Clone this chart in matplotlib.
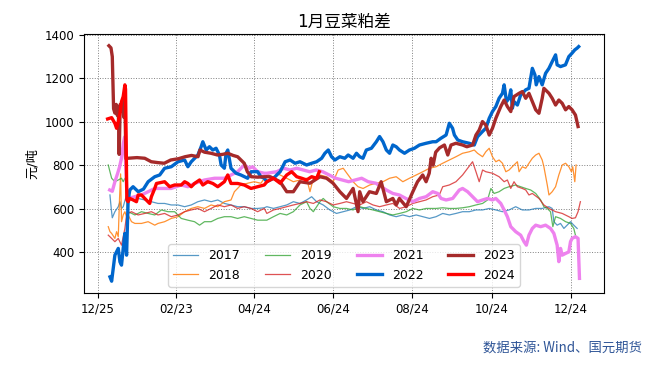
import matplotlib
matplotlib.use("Agg")
import matplotlib.pyplot as plt

plt.rcParams['font.family'] = ['DejaVu Sans', 'Noto Sans CJK SC']
plt.rcParams['axes.unicode_minus'] = False

# x = days counted from 12/25
tick_days = [0, 60, 120, 181, 242, 303, 364]
tick_labels = ["12/25", "02/23", "04/24", "06/24", "08/24", "10/24", "12/24"]

d2017 = [9.2, 10.2, 11, 13, 15.6, 16.9, 18.1, 19.4, 22, 25.8, 30.9, 36, 41.1, 46.2, 51.3, 56.4, 61.6, 66.7, 71.8, 76.9, 82, 87.1, 92.2, 97.3, 102.4, 107.5, 112.6, 117.8, 122.9, 128, 130, 135.1, 140.2, 145.3, 150.4, 155.5, 160.6, 164.5, 168.3, 173.4, 178.5, 183.6, 188.8, 193.9, 199, 204.1, 209.2, 214.3, 219.4, 224.5, 229.6, 234.7, 239.8, 245, 250.1, 255.2, 260.3, 265.4, 270.5, 275.6, 280.7, 285.9, 291, 296.1, 301.2, 306.3, 311.4, 316.5, 321.6, 326.7, 331.8, 337, 342, 347.2, 349.7, 351, 353.5, 356.1, 358.7, 361.2, 363.8, 366.3, 368.9]
v2017 = [663, 600, 558, 586, 609, 632, 601, 609, 663, 655, 647, 640, 632, 624, 624, 617, 617, 609, 617, 632, 640, 632, 640, 624, 617, 609, 609, 601, 601, 604, 609, 601, 609, 617, 632, 624, 640, 655, 632, 617, 594, 578, 586, 594, 609, 601, 609, 594, 586, 571, 563, 571, 563, 571, 563, 555, 563, 578, 571, 578, 586, 586, 594, 594, 601, 594, 586, 594, 609, 594, 594, 601, 601, 609, 601, 540, 524, 532, 509, 524, 540, 524, 509]

d2018 = [7.9, 9.2, 10.5, 13, 14.3, 15.6, 16.6, 17.4, 18.1, 19.4, 20.7, 22, 23.2, 25.8, 28.4, 33.5, 38.6, 43.7, 46.2, 51.3, 56.4, 61.6, 66.7, 71.8, 76.9, 82, 87.1, 92.2, 97.3, 102.4, 105, 110, 115.2, 120.3, 125.4, 130, 135.1, 140.2, 145.3, 150.4, 155.5, 160.6, 163.2, 165.8, 170.9, 176, 181.1, 184.9, 188.8, 192.6, 196.4, 200.2, 204.1, 209.2, 214.3, 219.4, 224.5, 229.6, 234.7, 239.8, 245, 250.1, 255.2, 260.3, 265.4, 270.5, 275.6, 280.7, 285.9, 289.7, 292.2, 296.1, 298.6, 301.2, 303.7, 306.3, 308.8, 311.4, 314, 316.5, 320.3, 322.9, 324.2, 326.7, 329.3, 331.8, 334.4, 337, 339.5, 342, 343.3, 345.9, 347.2, 349.7, 352.3, 354.8, 357.4, 360, 362.5, 364.5, 365.5, 367.1, 368.1]
v2018 = [517, 494, 486, 463, 494, 471, 650, 760, 540, 571, 586, 563, 571, 540, 532, 532, 540, 524, 532, 540, 555, 563, 586, 601, 609, 601, 617, 609, 632, 640, 678, 709, 717, 724, 717, 755, 770, 755, 740, 724, 732, 740, 678, 740, 755, 747, 724, 778, 786, 755, 724, 701, 693, 709, 717, 724, 740, 747, 724, 740, 755, 770, 786, 793, 809, 824, 839, 855, 862, 870, 855, 839, 862, 878, 839, 816, 824, 809, 770, 778, 801, 816, 770, 793, 786, 809, 832, 847, 855, 824, 793, 709, 663, 678, 701, 755, 801, 809, 793, 770, 793, 724, 801]

d2019 = [7.9, 9.2, 10.5, 13, 15.6, 18.1, 19.4, 20.7, 21.7, 22.5, 23.2, 28.4, 33.5, 38.6, 43.7, 48.8, 53.9, 59, 64.1, 69.2, 74.3, 78.2, 82, 87.1, 92.2, 97.3, 102.4, 107.5, 112.6, 117.8, 122.9, 128, 130, 135.1, 140.2, 145.3, 150.4, 155.5, 160.6, 163.2, 165.8, 170.9, 173.4, 176, 181.1, 186.2, 191.3, 196.4, 201.5, 206.6, 211.7, 216.8, 222, 227, 232.2, 237.3, 242.4, 247.5, 252.6, 257.7, 260.3, 265.4, 270.5, 275.6, 280.7, 285.9, 291, 296.1, 299.9, 302.5, 305, 308.8, 312.7, 316.5, 321.6, 325.4, 329.3, 333.1, 337, 340.8, 343.3, 345.9, 348.4, 350.2, 352.3, 356.1, 360, 363.8, 366.3, 367.6]
v2019 = [801, 770, 740, 724, 732, 740, 724, 740, 720, 600, 586, 571, 586, 578, 571, 594, 586, 586, 555, 547, 540, 524, 540, 540, 555, 563, 563, 555, 563, 555, 547, 547, 547, 563, 578, 571, 586, 617, 632, 601, 586, 632, 647, 632, 609, 601, 601, 594, 609, 601, 594, 586, 578, 571, 578, 586, 601, 594, 601, 601, 601, 604, 601, 601, 604, 609, 617, 624, 640, 693, 670, 678, 693, 701, 709, 701, 693, 686, 670, 640, 609, 601, 586, 517, 563, 555, 540, 532, 509, 478]

d2020 = [7.9, 10.5, 13, 15.6, 18.1, 20.7, 22, 23.2, 25.8, 30.9, 36, 41.1, 46.2, 51.3, 56.4, 61.6, 66.7, 71.8, 76.9, 82, 87.1, 92.2, 97.3, 102.4, 107.5, 112.6, 117.8, 122.9, 128, 130, 135.1, 140.2, 145.3, 150.4, 155.5, 160.6, 165.8, 170.9, 176, 181.1, 186.2, 191.3, 196.4, 201.5, 206.6, 211.7, 216.8, 222, 227, 232.2, 237.3, 242.4, 247.5, 252.6, 257.7, 262.8, 265.4, 270.5, 275.6, 280.7, 284.6, 288.4, 291, 293.5, 296.1, 298.6, 303.7, 308.8, 312.7, 315.2, 317.8, 320.3, 322.9, 326.7, 329.3, 331.8, 334.4, 339.5, 343.3, 347.2, 352.3, 357.4, 362.5, 365, 367.6, 369.6, 371.4]
v2020 = [478, 463, 448, 463, 432, 509, 571, 578, 586, 571, 578, 586, 571, 578, 563, 571, 586, 594, 601, 586, 601, 617, 609, 617, 601, 609, 601, 586, 601, 578, 594, 601, 609, 617, 624, 632, 624, 640, 632, 617, 624, 632, 624, 617, 632, 617, 609, 617, 624, 601, 609, 624, 632, 640, 655, 663, 701, 709, 724, 755, 786, 816, 770, 724, 778, 770, 763, 747, 724, 732, 693, 724, 701, 693, 686, 663, 670, 647, 617, 601, 586, 578, 563, 555, 558, 586, 632]

d2021 = [9, 11, 13, 15, 16.5, 18, 19.5, 20.5, 22, 23.2, 28.3, 33.5, 38.6, 43.7, 48.8, 56.4, 64.1, 69.2, 74.3, 82, 89.7, 97.3, 102.4, 107.5, 112.6, 116.5, 119, 122.9, 128, 130, 137.6, 143, 148, 153, 158, 163, 168, 173, 178, 183, 188, 193, 198, 203, 208, 214, 218, 222, 227, 232, 237, 242.4, 247.5, 252.6, 257.7, 261.6, 264.1, 268, 273.1, 278.2, 280.7, 284.6, 288.4, 292.2, 296.1, 299.9, 303.7, 306.3, 310.1, 312.7, 315.2, 317.8, 321.6, 325.4, 328, 329.8, 331.8, 334.4, 337, 340.8, 344.6, 348.4, 351, 353.5, 354.8, 356.1, 357.4, 360, 362.5, 363.8, 365, 367.6, 369.6, 370.7]
v2021 = [686, 680, 724, 760, 790, 830, 900, 930, 700, 647, 655, 663, 678, 693, 693, 693, 709, 701, 716, 732, 740, 740, 755, 770, 801, 786, 793, 770, 763, 763, 770, 786, 778, 786, 778, 770, 778, 770, 755, 740, 732, 724, 732, 740, 724, 717, 701, 686, 670, 663, 647, 632, 647, 655, 678, 670, 647, 640, 647, 686, 693, 678, 655, 632, 640, 647, 640, 647, 624, 594, 563, 517, 494, 478, 448, 432, 478, 509, 524, 517, 524, 509, 486, 432, 356, 417, 386, 394, 401, 448, 463, 471, 463, 279]

d2022 = [9.2, 10.5, 11.7, 13, 15.6, 16.9, 18.1, 19.4, 20.7, 22, 23.2, 24.5, 27, 31, 35, 38.6, 43.7, 47.5, 51.3, 56.4, 61.6, 66.7, 69.2, 71.8, 76.9, 79.4, 80.7, 83.3, 85.8, 88.4, 90.9, 93.5, 94.8, 97.3, 98.6, 99.9, 102.4, 106.3, 110, 115.2, 117.8, 122.9, 125.4, 128, 130, 135.1, 140.2, 144.1, 147.9, 151.7, 155.5, 160.6, 164.5, 168.3, 172.2, 174.7, 177.3, 179.8, 182.4, 186.2, 190, 192.6, 196.4, 199, 201.5, 204, 206.6, 210.5, 214.3, 216.8, 219.4, 222, 224.5, 227, 229.6, 232.1, 236, 239.8, 243.6, 247.5, 252.6, 257.7, 260.3, 264, 268, 270.5, 273, 274.4, 277, 280.7, 285.8, 289.7, 292.2, 296, 298.6, 301.2, 303.7, 306.3, 308.8, 311.4, 312.7, 314.5, 316.5, 317.8, 319, 320.3, 322.9, 325.4, 329.3, 331.8, 333.1, 334.4, 336.4, 337.4, 339.5, 342, 344.6, 347.2, 349.7, 352.3, 353.5, 356.1, 359.9, 362.5, 365, 367.1, 368.9, 370.1]
v2022 = [286, 266, 325, 386, 417, 355, 340, 417, 486, 386, 640, 686, 701, 678, 690, 724, 747, 755, 786, 793, 816, 824, 793, 816, 847, 885, 908, 870, 885, 870, 878, 847, 801, 786, 855, 870, 786, 763, 755, 740, 770, 770, 747, 740, 724, 740, 770, 816, 824, 809, 816, 801, 809, 816, 832, 855, 870, 839, 824, 839, 832, 847, 832, 855, 839, 832, 870, 878, 908, 932, 908, 870, 855, 893, 885, 870, 855, 870, 878, 893, 901, 908, 908, 924, 939, 993, 970, 939, 916, 908, 901, 893, 931, 955, 970, 1016, 1047, 1070, 1108, 1131, 1170, 1093, 1108, 1147, 1062, 1093, 1077, 1123, 1147, 1154, 1200, 1246, 1216, 1170, 1208, 1170, 1223, 1246, 1277, 1308, 1262, 1254, 1262, 1300, 1316, 1331, 1339, 1346]

d2023 = [8.4, 10, 11, 12, 13, 14, 14.8, 15.6, 16.3, 17.1, 18.1, 19.2, 20, 20.7, 21.5, 23, 30, 36, 41, 46, 51, 56, 62, 67, 72, 77, 78.5, 82, 87, 92, 96, 100, 104, 107.5, 112.6, 115, 118, 123, 128, 132.6, 140.2, 145.3, 150.4, 155.5, 163.2, 170.9, 176, 181, 186.2, 191.3, 196.4, 200.2, 201.5, 204, 209, 214.3, 218, 222, 227, 229.6, 232, 237.3, 242.4, 246, 250, 252.6, 255, 256.5, 258, 260, 263, 266.7, 269.3, 271.8, 275.6, 280.7, 284, 288.4, 291, 293.5, 296, 298.6, 301.2, 303.7, 306.3, 310.1, 312.7, 315.2, 317.8, 320.3, 324.2, 326.7, 329.3, 331.8, 334.4, 337, 339.5, 342, 343.3, 347.2, 349.7, 352.3, 354.8, 357.4, 360, 362.5, 365, 367.6, 369.6]
v2023 = [1350, 1340, 1300, 1060, 1040, 1080, 1030, 1070, 850, 1080, 1050, 1100, 1020, 1090, 830, 832, 835, 832, 816, 812, 809, 824, 830, 839, 845, 839, 870, 860, 855, 847, 850, 855, 845, 839, 809, 770, 747, 745, 747, 747, 724, 678, 678, 724, 717, 747, 740, 717, 678, 647, 693, 586, 678, 632, 678, 670, 724, 632, 647, 617, 647, 609, 678, 724, 755, 724, 763, 832, 800, 860, 880, 893, 847, 893, 901, 893, 885, 893, 939, 962, 1001, 985, 939, 970, 1016, 1070, 1100, 1070, 1047, 1116, 1131, 1139, 1108, 1131, 1093, 1055, 1039, 1108, 1154, 1131, 1108, 1077, 1100, 1085, 1055, 1070, 1055, 1031, 978]

d2024 = [7.4, 10.5, 13, 14.3, 15.6, 16.9, 18.1, 19.4, 20.7, 21.2, 22.2, 23.2, 24.5, 27.1, 29.6, 30.9, 33.5, 36, 39.8, 41.1, 43.7, 45, 51.3, 55.2, 59, 64.1, 66.7, 69.2, 71.8, 74.3, 78.2, 80.7, 84.5, 88.4, 92.2, 97.3, 99.9, 102.4, 107.5, 112.6, 117.8, 122.9, 128, 130, 135.1, 140.2, 145.3, 149.1, 153, 156.8, 160.6, 164.5, 168.3, 170.4]
v2024 = [1013, 1019, 993, 970, 1000, 1039, 1093, 1116, 1170, 1150, 640, 632, 647, 640, 632, 663, 663, 647, 624, 655, 693, 716, 724, 701, 709, 709, 724, 716, 701, 716, 732, 709, 724, 716, 701, 724, 755, 716, 716, 709, 693, 701, 709, 724, 740, 717, 755, 770, 747, 740, 732, 747, 740, 770]

series = [
    ("2017", d2017, v2017, "#1f77b4", 0.9, 0.75),
    ("2018", d2018, v2018, "#ff7f0e", 0.9, 0.85),
    ("2019", d2019, v2019, "#2ca02c", 0.9, 0.75),
    ("2020", d2020, v2020, "#d62728", 0.9, 0.8),
    ("2021", d2021, v2021, "violet", 2.4, 1.0),
    ("2022", d2022, v2022, "#0066CC", 2.4, 1.0),
    ("2023", d2023, v2023, "brown", 2.4, 1.0),
    ("2024", d2024, v2024, "red", 2.4, 1.0),
]

fig = plt.figure(figsize=(6.53, 3.66), dpi=100)
ax = fig.add_axes([0.1286, 0.1995, 0.7964, 0.7077])

for name, d, v, c, lw, a in series:
    ax.plot(d, v, color=c, lw=lw, alpha=a, label=name)

ax.set_xticks(tick_days)
ax.set_xticklabels(tick_labels)
ax.tick_params(labelsize=8.5)
ax.grid(True, linestyle=':', color='gray', linewidth=0.7)
ax.set_title("1月豆菜粕差", fontsize=12, pad=5)
ax.set_ylabel("元/吨", fontsize=9.5)

leg = ax.legend(ncol=4, loc='lower center', fontsize=9, frameon=True)

fig.text(0.7397, 0.049, "数据来源: Wind、国元期货", fontsize=9.6, color='#2F5597',
         family=['Noto Sans CJK SC', 'DejaVu Sans'], va='center')

fig.savefig("out.png", dpi=100)
